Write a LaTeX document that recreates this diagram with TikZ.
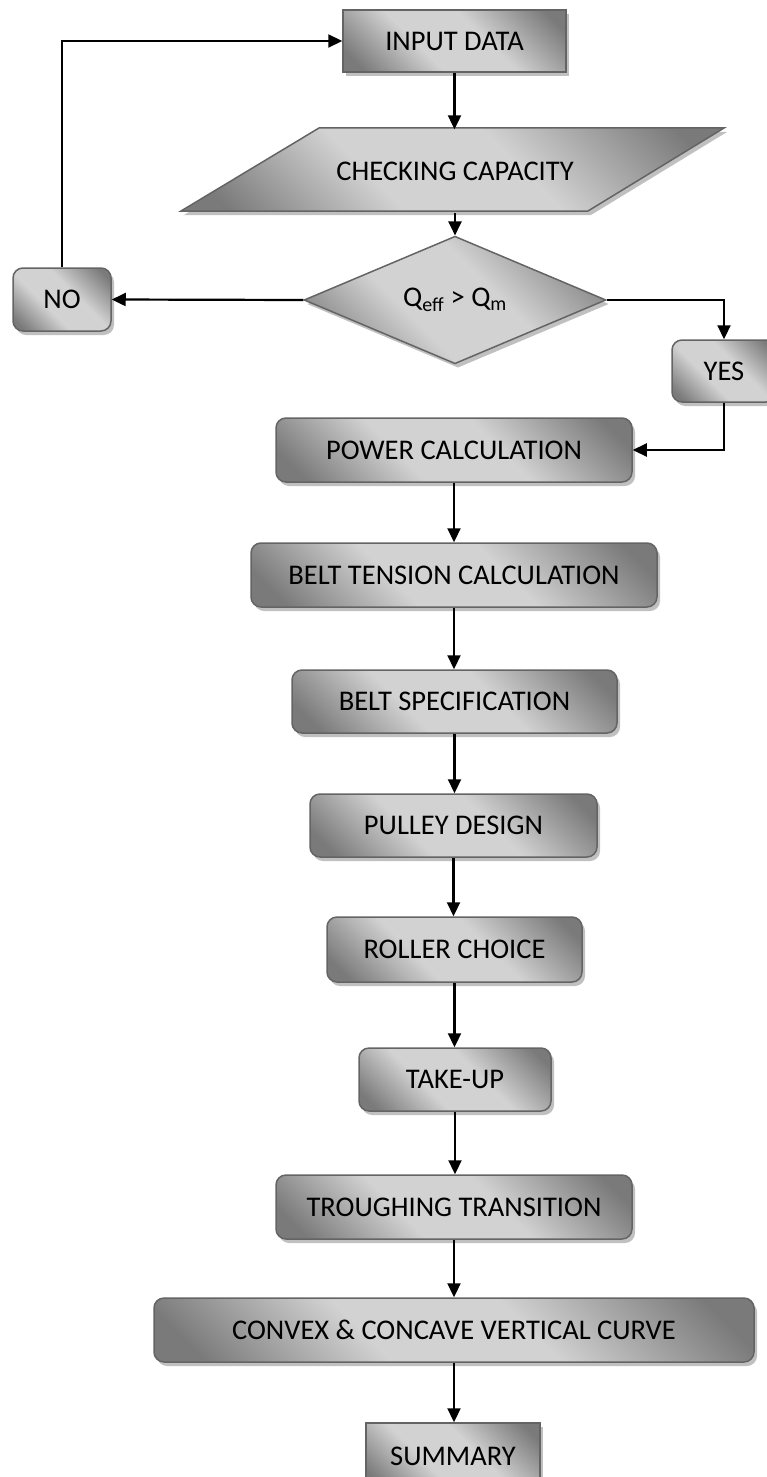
\documentclass[tikz,border=0pt]{standalone}
\usepackage{fontspec}
\setmainfont{Carlito}
\usetikzlibrary{arrows.meta,shadows,shapes.geometric,calc}
\definecolor{gdark}{RGB}{122,122,122}
\definecolor{glight}{RGB}{210,210,210}
\definecolor{gline}{RGB}{100,100,100}
\definecolor{gshadow}{RGB}{192,192,192}
\pgfdeclareverticalshading{boxshade}{100bp}{color(0bp)=(gdark); color(20bp)=(gdark); color(40bp)=(glight); color(58bp)=(glight); color(80bp)=(gdark); color(100bp)=(gdark)}
\tikzset{
  gfill/.style={shading=boxshade, shading angle=-45},
  shad/.style={drop shadow={shadow xshift=3pt, shadow yshift=-4pt, fill=gshadow, opacity=1}},
  txt/.style={font=\fontsize{28.5}{32}\selectfont, text=black},
  sqbox/.style={draw=gline, line width=1.5pt, gfill, shad, inner sep=0pt, txt},
  rbox/.style={sqbox, rounded corners=10pt},
  arr/.style={line width=2.2pt, -{Triangle[length=14pt, width=13pt]}},
}
\begin{document}
\begin{tikzpicture}[x=1pt, y=-1pt]
\useasboundingbox (0,0) rectangle (767,1477);

% input
\node[sqbox, minimum width=223pt, minimum height=62pt] (in) at (454.5,41) {INPUT DATA};

% parallelogram
\path[draw=gline, line width=1.5pt, gfill, shad] (319,128) -- (724,128) -- (588,211) -- (181,211) -- cycle;
\node[txt, inner sep=0pt, minimum width=300pt, minimum height=83pt] (cap) at (455,171) {CHECKING CAPACITY};

% decision
\node[diamond, draw=gline, line width=1.5pt, gfill, shad, inner sep=0pt,
      minimum width=302pt, minimum height=108pt, txt] (dia) at (455,300)
      {Q\textsubscript{eff} > Q\textsubscript{m}};

\node[rbox, minimum width=98pt, minimum height=63pt] (no) at (62,299.5) {NO};
\node[rbox, minimum width=104pt, minimum height=62pt] (yes) at (724,371) {YES};

\node[rbox, minimum width=356pt, minimum height=64pt] (power) at (454,450) {POWER CALCULATION};
\node[rbox, minimum width=406pt, minimum height=64pt] (belt) at (454,575) {BELT TENSION CALCULATION};
\node[rbox, minimum width=325pt, minimum height=63pt] (spec) at (454.5,701.5) {BELT SPECIFICATION};
\node[rbox, minimum width=287pt, minimum height=63pt] (pulley) at (453.5,825.5) {PULLEY DESIGN};
\node[rbox, minimum width=255pt, minimum height=65pt] (roller) at (454.5,949.5) {ROLLER CHOICE};
\node[rbox, minimum width=192pt, minimum height=63pt] (takeup) at (455,1079.5) {TAKE-UP};
\node[rbox, minimum width=356pt, minimum height=64pt] (trough) at (454,1207) {TROUGHING TRANSITION};
\node[rbox, minimum width=600pt, minimum height=64pt] (convex) at (454,1330) {CONVEX \& CONCAVE VERTICAL CURVE};
\node[sqbox, minimum width=174pt, minimum height=66pt] (summary) at (453,1456) {SUMMARY};

% connectors
\draw[arr] (in.south) -- (in.south |- cap.north);
\draw[arr] (cap.south) -- (dia.north);
\draw[arr] (dia.west) -- (no.east);
\draw[arr] (no.north) |- (in.west);
\draw[arr] (dia.east) -| (yes.north);
\draw[arr] (yes.south) |- (power.east);
\draw[arr] (power.south) -- (power.south |- belt.north);
\draw[arr] (belt.south) -- (belt.south |- spec.north);
\draw[arr] (spec.south) -- (spec.south |- pulley.north);
\draw[arr] (pulley.south) -- (pulley.south |- roller.north);
\draw[arr] (roller.south) -- (roller.south |- takeup.north);
\draw[arr] (takeup.south) -- (takeup.south |- trough.north);
\draw[arr] (trough.south) -- (trough.south |- convex.north);
\draw[arr] (convex.south) -- (convex.south |- summary.north);
\end{tikzpicture}
\end{document}
